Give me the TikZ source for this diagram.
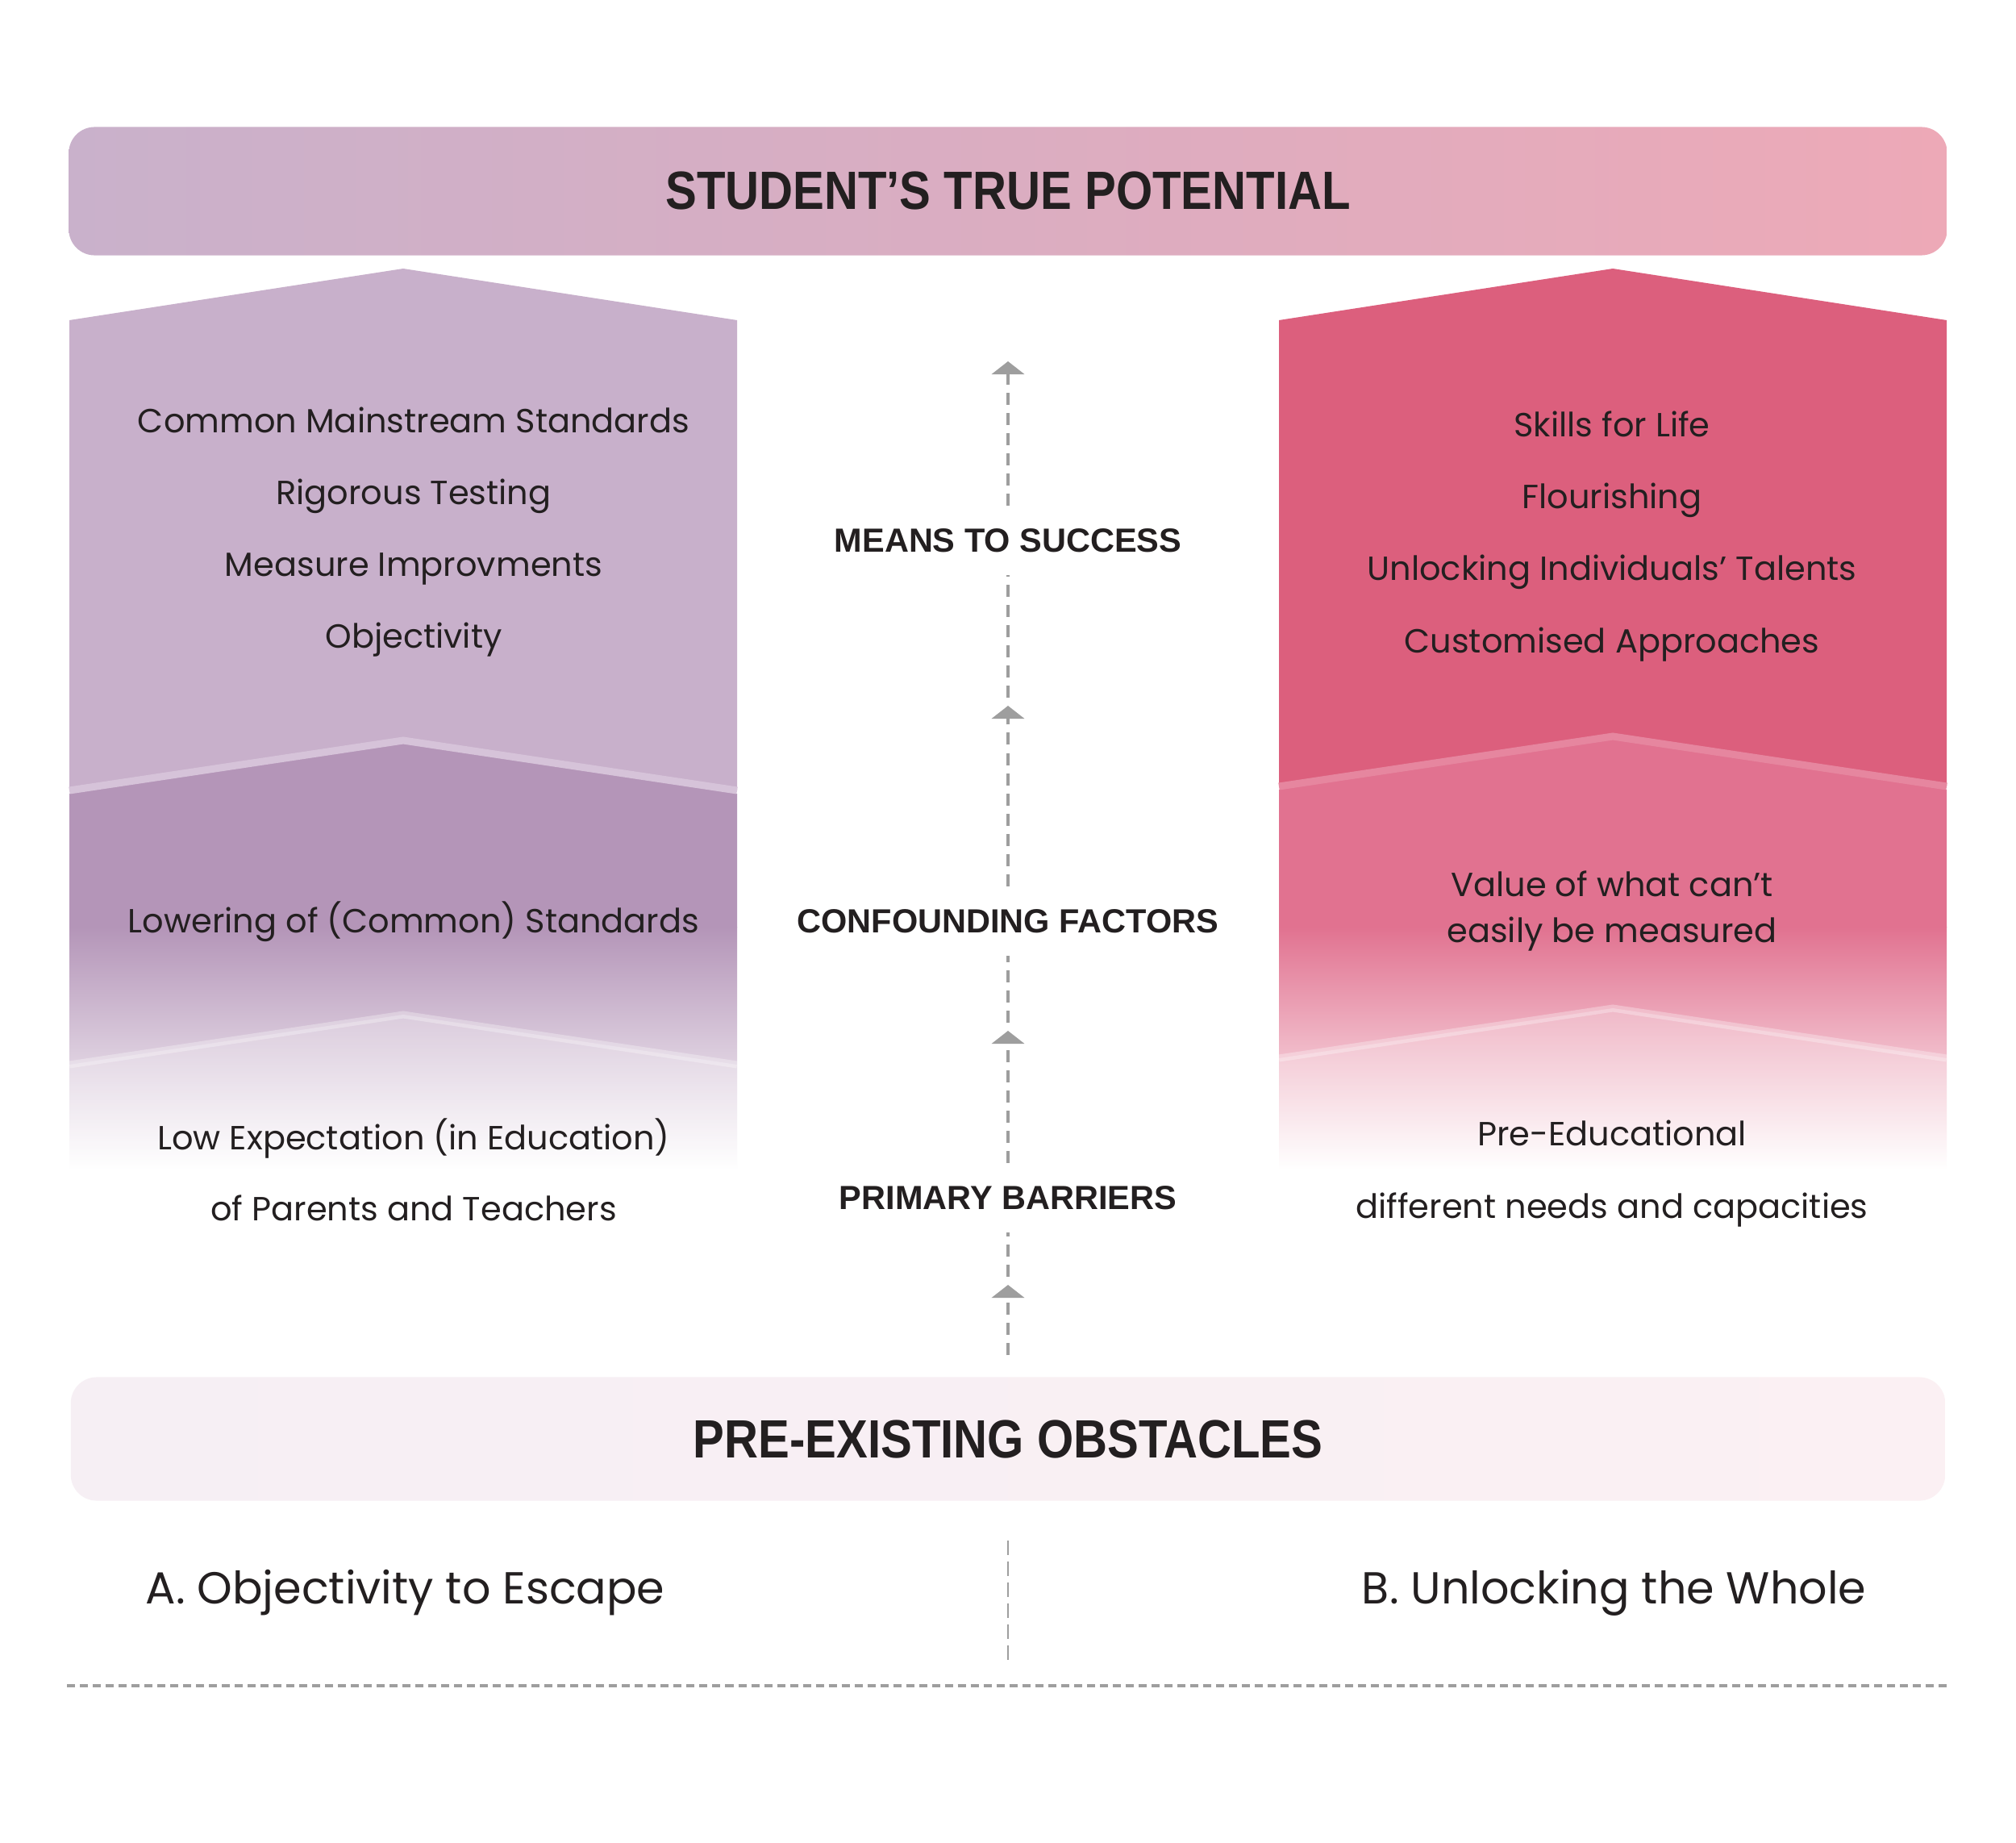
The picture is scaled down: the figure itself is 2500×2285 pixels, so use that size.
\documentclass[tikz,border=0pt]{standalone}
\usepackage{fontspec}
\setmainfont{Poppins}
\newfontfamily\headfont[FakeStretch=0.87]{Liberation Sans}
\newfontfamily\labelfont{Liberation Sans}
\usetikzlibrary{positioning,arrows.meta}
\usepackage{xcolor}
\definecolor{inkdark}{HTML}{231F20}
\definecolor{potleft}{HTML}{C9B1CB}
\definecolor{potright}{HTML}{EDA9B7}
\definecolor{lavtop}{HTML}{C8B0CB}
\definecolor{lavmid}{HTML}{B495B8}
\definecolor{lavline}{HTML}{D6C3D9}
\definecolor{rosetop}{HTML}{DC5F7D}
\definecolor{rosemid}{HTML}{E17290}
\definecolor{roseline}{HTML}{E6869F}
\definecolor{obstleft}{HTML}{F6EFF4}
\definecolor{obstright}{HTML}{FBF0F3}
\definecolor{flowgray}{HTML}{9E9E9E}

\begin{document}
\begin{tikzpicture}[x=0.01cm,y=-0.01cm,
  banner/.style={rounded corners=0.32cm,minimum width=23.28cm,minimum height=1.59cm,text=inkdark,font=\headfont\bfseries\fontsize{19}{22}\selectfont},
  stage/.style={font=\labelfont\bfseries\fontsize{11.8}{14}\selectfont,text=inkdark,inner xsep=0pt,inner ysep=0.28cm},
  item/.style={font=\fontsize{11.8}{16.2}\selectfont,text=inkdark,align=center,text height=0.75em,text depth=0.25em},
  choice/.style={font=\fontsize{15.8}{18}\selectfont,text=inkdark,inner sep=0pt,text height=0.75em,text depth=0.25em},
  flow/.style={draw=flowgray,line width=0.04cm,dash pattern=on 0.15cm off 0.1cm},
  tip/.style={-{Triangle[width=0.4cm,length=0.16cm]}}]
\fill[white] (0,0) rectangle (2500,2285);
\useasboundingbox (0,0) rectangle (2500,2285);

% top banner
\node[banner,left color=potleft,right color=potright] (pot) at (1250,237) {STUDENT’S TRUE POTENTIAL};

% the two chevron columns
\foreach \cx/\ctop/\cmid/\cline/\py/\qy in {500/lavtop/lavmid/lavline/918/1258,2000/rosetop/rosemid/roseline/913/1250}{
  \fill[\ctop] (\cx-414,397) -- (\cx,333) -- (\cx+414,397) -- (\cx+414,\py+62) -- (\cx,\py) -- (\cx-414,\py+62) -- cycle;
  \fill[\cmid] (\cx-414,\py+66) -- (\cx,\py+4) -- (\cx+414,\py+66) -- (\cx+414,1150) -- (\cx-414,1150) -- cycle;
  \shade[top color=\cmid,bottom color=white] (\cx-414,1149) rectangle (\cx+414,1450);
  \fill[white,opacity=0.25] (\cx-414,\qy+62) -- (\cx,\qy) -- (\cx+414,\qy+62) -- (\cx+414,1450) -- (\cx-414,1450) -- cycle;
  \draw[\cline,line width=0.09cm] (\cx-414,\py+62) -- (\cx,\py) -- (\cx+414,\py+62);
  \draw[white,opacity=0.3,line width=0.09cm] (\cx-414,\qy+62) -- (\cx,\qy) -- (\cx+414,\qy+62);
}

% left column
\foreach \t [count=\i] in {Common Mainstream Standards,Rigorous Testing,Measure Improvments,Objectivity}
  \node[item] (meas\i) at (513,{438+89.3*\i}) {\t};
\node[item] (lower) at (513,1148) {Lowering of (Common) Standards};
\node[item] (lowexp1) at (513,1417) {Low Expectation (in Education)};
\node[item] (lowexp2) at (513,1505) {of Parents and Teachers};

% right column
\foreach \t [count=\i] in {Skills for Life,Flourishing,Unlocking Individuals’ Talents,Customised Approaches}
  \node[item] (skill\i) at (1999,{443+89.3*\i}) {\t};
\node[item] (value) at (1999,1160) {Value of what can’t\\easily be measured};
\node[item] (pre1) at (1999,1412) {Pre-Educational};
\node[item] (pre2) at (1999,1502) {different needs and capacities};

% middle stages
\node[stage] (means) at (1250,670) {MEANS TO SUCCESS};
\node[stage] (conf) at (1250,1142) {CONFOUNDING FACTORS};
\node[stage] (prim) at (1250,1485) {PRIMARY BARRIERS};

% bottom banner
\node[banner,left color=obstleft,right color=obstright,minimum width=23.23cm,minimum height=1.53cm] (obst) at (1250,1784) {PRE-EXISTING OBSTACLES};

% dashed arrows up the middle
\coordinate (start) at (1250,1680);
\coordinate (h4) at (1250,1593);
\coordinate (h3) at (1250,1278);
\coordinate (h2) at (1250,875);
\coordinate (h1) at (1250,448);
\draw[flow,tip] (start) -- (h4);
\draw[flow,shorten <=0.1cm] (h4) -- (prim);
\draw[flow,tip] (prim) -- (h3);
\draw[flow,shorten <=0.1cm] (h3) -- (conf);
\draw[flow,tip] (conf) -- (h2);
\draw[flow,shorten <=0.1cm] (h2) -- (means);
\draw[flow,tip] (means) -- (h1);

% options
\node[choice,anchor=west] (optA) at (180,1980) {A. Objectivity to Escape};
\node[choice,anchor=east] (optB) at (2315,1980) {B. Unlocking the Whole};
\coordinate (divtop) at (1250,1910);
\coordinate (divbot) at (1250,2066);
\draw[flowgray,line width=0.02cm,dash pattern=on 0.18cm off 0.08cm] (divtop) -- (divbot);
\coordinate (baseL) at (83,2090);
\coordinate (baseR) at (2417,2090);
\draw[flowgray,line width=0.045cm,dash pattern=on 0.1cm off 0.06cm] (baseL) -- (baseR);
\end{tikzpicture}
\end{document}
